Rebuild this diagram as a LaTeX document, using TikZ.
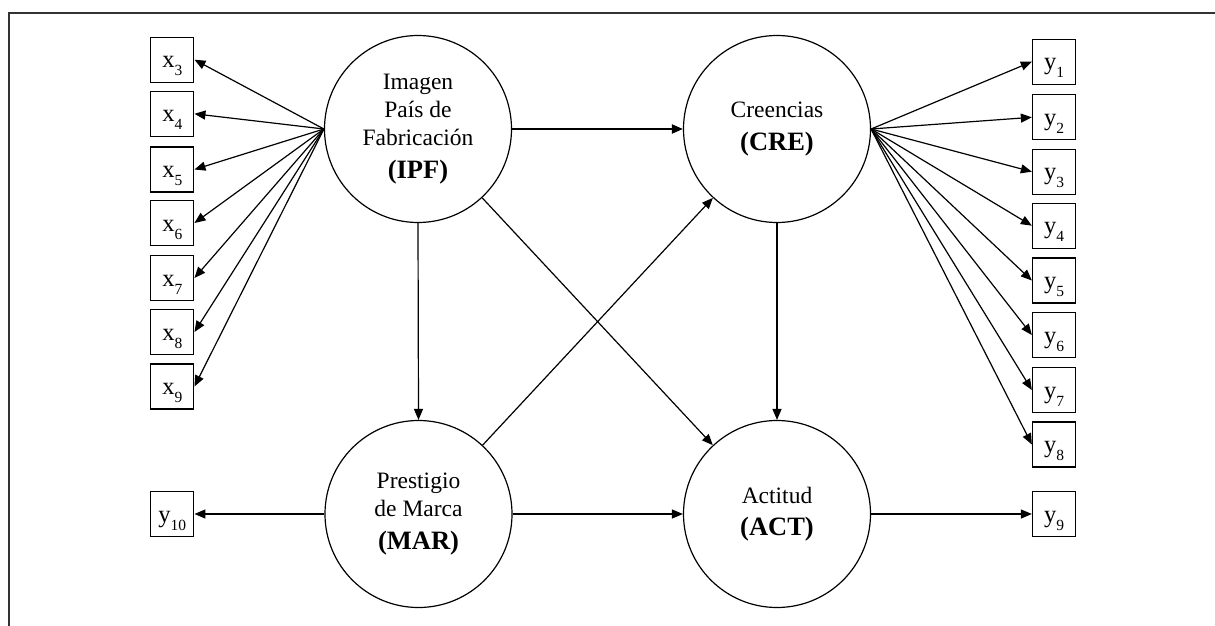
\documentclass[tikz,border=0pt]{standalone}
\usepackage{fontspec}
\setmainfont{Liberation Serif}
\usetikzlibrary{arrows.meta}

% indicator label: upright letter with a lowered index
\newcommand{\indvar}[2]{#1\raisebox{-8pt}{\fontsize{15.5}{15.5}\selectfont #2}}

\begin{document}
\begin{tikzpicture}[x=1pt,y=-1pt,
  latent/.style={circle,draw,line width=1.2pt,minimum size=187pt,inner sep=0pt,
                 align=center,font=\fontsize{23.5}{28}\selectfont},
  manifest/.style={draw,line width=1.3pt,minimum width=43pt,minimum height=45pt,
                   inner sep=0pt,text height=18pt,text depth=2pt,
                   font=\fontsize{24.5}{24.5}\selectfont},
  link/.style={line width=1.2pt,-{Triangle[length=11pt,width=9pt]}},
  mainlink/.style={link,line width=2pt},
  frameline/.style={line width=1.8pt,black!80}
]
\useasboundingbox (0,0) rectangle (1215,626);

% outer frame
\draw[frameline] (8.7,650) -- (8.7,12.7) -- (1240,12.7);

% latent constructs
\node[latent] (IPF) at (418,129) {Imagen\\País de\\Fabricación\\[4.5pt]{\fontsize{26.5}{28}\selectfont\bfseries (IPF)}};
\node[latent] (CRE) at (777,129) {Creencias\\[4.5pt]{\fontsize{26.5}{28}\selectfont\bfseries (CRE)}};
\node[latent] (MAR) at (418.5,514) {Prestigio\\de Marca\\[4.5pt]{\fontsize{26.5}{28}\selectfont\bfseries (MAR)}};
\node[latent] (ACT) at (777,514) {Actitud\\[4.5pt]{\fontsize{26.5}{28}\selectfont\bfseries (ACT)}};

% indicators of IPF
\foreach \i/\yy in {3/59.7,4/113.8,5/169.5,6/223,7/278,8/332,9/386.5}
  \node[manifest] (x\i) at (172.3,\yy) {\indvar{x}{\i}};

% indicators of CRE
\foreach \i/\yy in {1/61.7,2/117.3,3/171.7,4/225.7,5/280.5,6/335,7/390,8/444.5}
  \node[manifest] (y\i) at (1054,\yy) {\indvar{y}{\i}};

% single indicators
\node[manifest] (y9) at (1054,514) {\indvar{y}{9}};
\node[manifest] (y10) at (172.3,514) {\indvar{y}{10}};

% loadings
\foreach \i in {3,...,9}
  \draw[link] (IPF.west) -- (x\i.east);
\foreach \i in {1,...,8}
  \draw[link] (CRE.east) -- (y\i.west);
\draw[link] (ACT.east) -- (y9.west);
\draw[link] (MAR.west) -- (y10.east);

% structural paths
\draw[mainlink] (IPF.east) -- (CRE.west);
\draw[link] (IPF.south) -- (MAR.north);
\draw[link] (IPF) -- (ACT);
\draw[link] (MAR) -- (CRE);
\draw[link] (CRE.south) -- (ACT.north);
\draw[link] (MAR.east) -- (ACT.west);
\end{tikzpicture}
\end{document}
